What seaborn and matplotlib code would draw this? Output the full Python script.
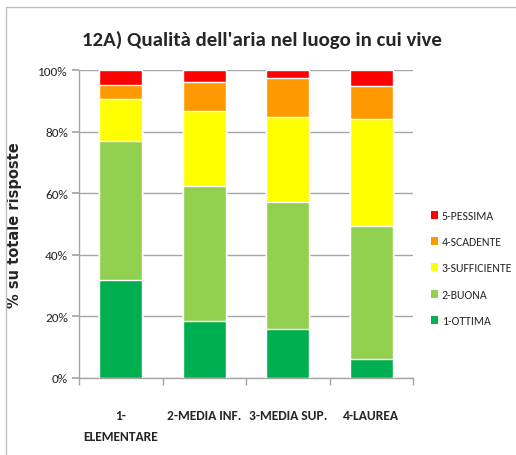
import matplotlib
matplotlib.use("Agg")
import matplotlib.pyplot as plt
import seaborn as sns
import pandas as pd
from matplotlib.patches import Rectangle, Patch
from matplotlib.ticker import PercentFormatter
from matplotlib import font_manager

categories = ["1-\nELEMENTARE", "2-MEDIA INF.", "3-MEDIA SUP.", "4-LAUREA"]
levels = ["1-OTTIMA", "2-BUONA", "3-SUFFICIENTE", "4-SCADENTE", "5-PESSIMA"]
ottima = [31.9, 18.5, 15.9, 6.3]
buona = [45.1, 43.7, 41.4, 42.9]
sufficiente = [13.6, 24.5, 27.5, 35.0]
scadente = [4.6, 9.4, 12.6, 10.6]
pessima = [4.8, 3.9, 2.6, 5.2]
colors = ["#00b050", "#92d050", "#ffff00", "#ff9900", "#ff0000"]

series = [ottima, buona, sufficiente, scadente, pessima]
rows = []
for lvl, vals in zip(levels, series):
    for c, v in zip(categories, vals):
        rows.append({"cat": c, "level": lvl, "value": v})
df = pd.DataFrame(rows)
df["cum"] = df.groupby("cat")["value"].cumsum()

sns.set_theme(style="white")
names = {f.name for f in font_manager.fontManager.ttflist}
main = next((n for n in ["Carlito", "Calibri", "Lato"] if n in names), "DejaVu Sans")
plt.rcParams["font.family"] = [main, "DejaVu Sans"]

fig = plt.figure(figsize=(5.16, 4.56), dpi=100)
ax = fig.add_axes([79/516, 1-379/456, (413-79)/516, (379-71)/456])

for lvl, col in zip(levels[::-1], colors[::-1]):
    sub = df[df["level"] == lvl]
    sns.barplot(data=sub, x="cat", y="cum", color=col, width=0.51,
                order=categories, ax=ax, saturation=1, errorbar=None, zorder=3)

ax.set_xlim(-0.5, 3.5)
ax.set_ylim(0, 100)
ax.set_yticks([0, 20, 40, 60, 80, 100])
ax.yaxis.set_major_formatter(PercentFormatter(decimals=0))
ax.yaxis.grid(True, color="#a6a6a6", linewidth=1, zorder=0)
ax.set_axisbelow(True)
for s in ["top", "right"]:
    ax.spines[s].set_visible(False)
for s in ["left", "bottom"]:
    ax.spines[s].set_color("#a6a6a6")
    ax.spines[s].set_linewidth(1)
ax.set_xticks([0, 1, 2, 3])
ax.set_xticklabels(categories, fontsize=9.7, fontweight="bold", va="top", linespacing=1.9)
ax.set_xticks([-0.5, 0.5, 1.5, 2.5, 3.5], minor=True)
ax.tick_params(axis="x", which="major", length=0, pad=22)
ax.tick_params(axis="x", which="minor", length=5, color="#a6a6a6", direction="out", bottom=True)
ax.tick_params(axis="y", length=5, color="#a6a6a6", direction="out", left=True, labelsize=9.5, pad=3)
ax.set_xlabel("")
ax.set_ylabel("% su totale risposte", fontsize=10.5, fontweight="bold",
              family="DejaVu Sans")
ax.yaxis.set_label_coords((22 - 79) / 334, 0.5)

fig.text(262/516, 1-40/456, "12A) Qualità dell'aria nel luogo in cui vive",
         ha="center", va="center", fontsize=15, fontweight="bold")

handles = [Patch(facecolor=c, edgecolor="none", label=l) for l, c in zip(levels[::-1], colors[::-1])]
leg = fig.legend(handles=handles, loc="upper left", bbox_to_anchor=(426/516, 1-206/456),
                 frameon=False, fontsize=8.5, handlelength=0.65, handleheight=0.65,
                 handletextpad=0.3, labelspacing=1.3, borderaxespad=0)

fig.patches.append(Rectangle((6/516, -0.1), 1.2, 1-8/456+0.1, transform=fig.transFigure,
                             fill=False, edgecolor="#bfbfbf", linewidth=1))

fig.savefig("out.png", dpi=100)
